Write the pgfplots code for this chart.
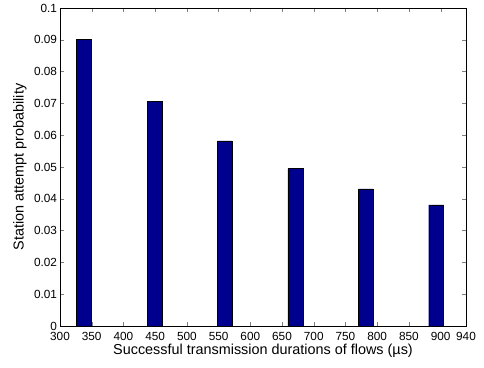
\documentclass[border=0pt]{standalone}
\usepackage{fontspec}
\setmainfont{Liberation Sans}
\usepackage{pgfplots}
\pgfplotsset{compat=1.18}
\definecolor{matblue}{RGB}{0,0,143}
\begin{document}
\begin{tikzpicture}
\useasboundingbox (-60bp,-42bp) rectangle (424bp,326bp);
\begin{axis}[
  scale only axis,
  width=406bp, height=318bp,
  xmin=300, xmax=940, ymin=0, ymax=0.1,
  xtick={300,350,400,450,500,550,600,650,700,750,800,850,900,940},
  ytick={0,0.01,0.02,0.03,0.04,0.05,0.06,0.07,0.08,0.09,0.1},
  yticklabels={0,0.01,0.02,0.03,0.04,0.05,0.06,0.07,0.08,0.09,0.1},
  /pgf/number format/assume math mode=true,
  xticklabel style={/pgf/number format/1000 sep={}, yshift=-2.5bp},
  yticklabel style={xshift=0.5bp},
  tick label style={font=\fontsize{11.8bp}{13bp}\selectfont},
  label style={font=\fontsize{14.4bp}{16bp}\selectfont},
  tick align=inside,
  major tick length=4bp,
  axis line style={line width=0.6bp},
  xlabel={Successful transmission durations of flows (µs)},
  ylabel={Station attempt probability},
  xlabel style={at={(rel axis cs:0.5,0)}, anchor=center, yshift=-25bp},
  ylabel style={at={(rel axis cs:0,0.5)}, anchor=center, yshift=40bp},
]
\addplot[ybar, bar width=23.5, fill=matblue, draw=black, line width=0.4bp]
coordinates {(338,0.0902) (449,0.0707) (560,0.0582) (671,0.0495) (782,0.0431) (893,0.0381)};
\end{axis}
\end{tikzpicture}
\end{document}
